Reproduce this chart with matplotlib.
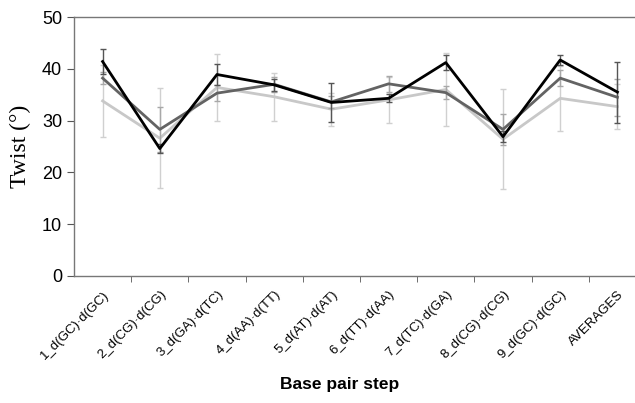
import matplotlib.pyplot as plt
import numpy as np

steps = ["1_d(GC)·d(GC)", "2_d(CG)·d(CG)", "3_d(GA)·d(TC)", "4_d(AA)·d(TT)",
         "5_d(AT)·d(AT)", "6_d(TT)·d(AA)", "7_d(TC)·d(GA)", "8_d(CG)·d(CG)",
         "9_d(GC)·d(GC)", "AVERAGES"]

# three series (twist, degrees) and their error bars
black_vals = [41.4, 24.6, 38.9, 36.9, 33.5, 34.3, 41.2, 26.9, 41.7, 35.5]
black_err = [2.5, 0.9, 2.0, 1.2, 3.8, 0.8, 1.5, 1.0, 1.0, 5.9]
dark_vals = [38.2, 28.3, 35.3, 37.0, 33.6, 37.1, 35.4, 28.3, 38.2, 34.5]
dark_err = [1.2, 4.3, 1.5, 1.5, 1.2, 1.5, 1.2, 3.0, 1.5, 3.6]
light_vals = [33.8, 26.6, 36.4, 34.6, 32.2, 34.0, 36.0, 26.4, 34.3, 32.7]
light_err = [6.9, 9.7, 6.5, 4.6, 3.2, 4.4, 7.0, 9.7, 6.3, 4.3]

x = np.arange(len(steps))

fig = plt.figure(figsize=(6.35, 4.03), dpi=100)
ax = fig.add_axes([74 / 635, 1 - 276 / 403, 572 / 635, 259 / 403])

ax.errorbar(x, light_vals, yerr=light_err, color='#c8c8c8', lw=2,
            ecolor='#d0d0d0', elinewidth=1, capsize=2, zorder=2)
ax.errorbar(x, dark_vals, yerr=dark_err, color='#636363', lw=2,
            ecolor='#a8a8a8', elinewidth=1, capsize=2, zorder=3)
ax.errorbar(x, black_vals, yerr=black_err, color='black', lw=2,
            ecolor='#555555', elinewidth=1, capsize=2, zorder=4)

ax.set_xlim(-0.5, 9.5)
ax.set_ylim(0, 50)
ax.set_yticks(np.arange(0, 51, 10))
ax.tick_params(axis='y', direction='out', length=5, labelsize=13, color='#555555')
for t in ax.get_yticklabels():
    t.set_fontfamily('Liberation Sans')

ax.set_xticks(x)
ax.set_xticklabels(steps, rotation=45, ha='right', va='top',
                   rotation_mode='anchor', fontsize=9.5, family='Liberation Sans')
ax.tick_params(axis='x', length=0, pad=9)
ax.set_xticks(np.arange(0.5, 9.5, 1), minor=True)
ax.tick_params(axis='x', which='minor', direction='out', length=4, color='#555555')

for s in ['left', 'bottom', 'top']:
    ax.spines[s].set_color('#777777')
    ax.spines[s].set_linewidth(1)
ax.spines['right'].set_visible(False)

ax.set_ylabel("Twist (°)", family='Liberation Serif', fontsize=17, labelpad=8)
fig.text(340 / 635, 1 - 385 / 403, "Base pair step", ha='center', va='center',
         fontsize=12.5, fontweight='bold', family='Liberation Sans')

fig.savefig("out.png", dpi=100)
